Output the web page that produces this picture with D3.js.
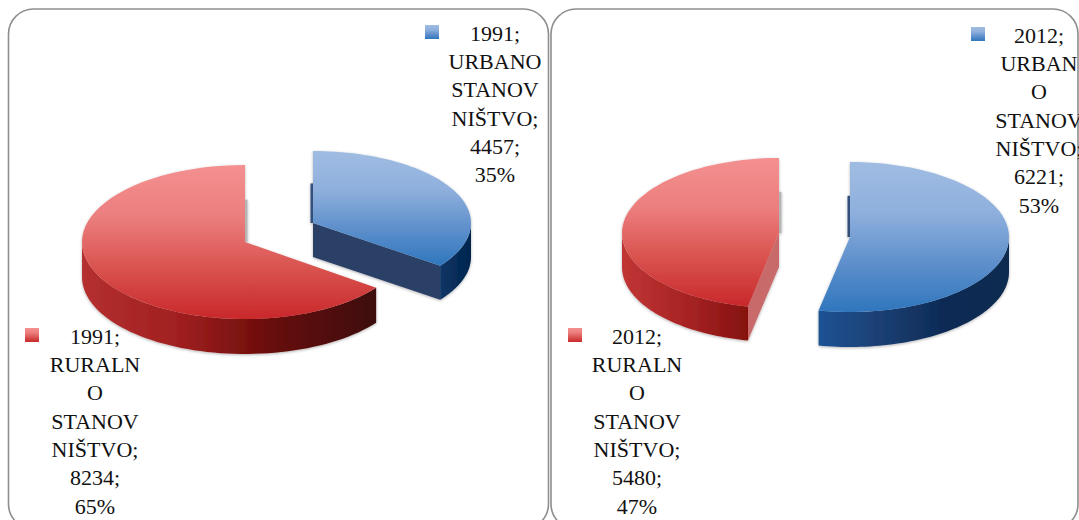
<!DOCTYPE html>
<html><head><meta charset="utf-8">
<script src="https://cdnjs.cloudflare.com/ajax/libs/d3/7.8.5/d3.min.js"></script>
<style>html,body{margin:0;padding:0;background:#fff;overflow:hidden}svg{display:block}</style>
</head><body><svg id="c" width="1079" height="520"></svg>
<script>
// ---- data ----
const years = ["1991", "2012"];
const categories = ["URBANO STANOVNIŠTVO", "RURALNO STANOVNIŠTVO"];
const urban = [4457, 6221];
const rural = [8234, 5480];
const urbanPct = ["35%", "53%"];
const ruralPct = ["65%", "47%"];
const urbanNameLines = [["URBANO","STANOV","NIŠTVO;"], ["URBAN","O","STANOV","NIŠTVO;"]];
const ruralNameLines = [["RURALN","O","STANOV","NIŠTVO;"], ["RURALN","O","STANOV","NIŠTVO;"]];

// ---- layout ----
const panels = [
  {x:8.5, w:540, urban:{cx:313,cy:223,rx:158,ry:72}, rural:{cx:245,cy:242,rx:163,ry:77},
   depth:[34,35], urbanLeg:{mx:425,my:25,tx:495,ty:33}, ruralLeg:{mx:25,my:328,tx:95,ty:336},
   uWall:["#0b3566","#03264e"], rWall:["#b53030","#a01f1f","#650b08","#3d0f0b"],
   uFace:"#2a4166", rFace:"#c96b6b"},
  {x:551, w:527, urban:{cx:850,cy:237,rx:159,ry:75}, rural:{cx:779,cy:233,rx:157,ry:75},
   depth:[35,34], urbanLeg:{mx:971,my:27,tx:1039,ty:35}, ruralLeg:{mx:568,my:328,tx:637,ty:336},
   uWall:["#1b5294","#1a3f72","#0d2a55","#0e2a50"], rWall:["#c03535","#a82424","#85110f"],
   uFace:"#2a4166", rFace:"#c96b6b"}
];
const lineH = 28.3, fontSize = 22;

const svg = d3.select("#c");
const defs = svg.append("defs");
function grad(id, stops, vertical){
  const g = defs.append("linearGradient").attr("id",id)
    .attr("x1",0).attr("y1",0).attr("x2",vertical?0:1).attr("y2",vertical?1:0);
  stops.forEach((c,i)=>g.append("stop").attr("offset",i/(stops.length-1)).attr("stop-color",c));
}
grad("topBlue",["#a0bce2","#8fb0dd","#5f90cc","#2f76bd"],true);
grad("topRed",["#f49090","#ec7e7e","#d9534f","#c9282b"],true);
const shadow = defs.append("filter").attr("id","sh").attr("x","-5%").attr("y","-5%").attr("width","110%").attr("height","115%");
shadow.append("feDropShadow").attr("dx",0).attr("dy",1).attr("stdDeviation",1.6).attr("flood-color","#000").attr("flood-opacity",0.3);

const line = d3.line();
const pie = d3.pie().sort(null);
const pt = (g,a,k=1)=>[g.cx+g.rx*k*Math.sin(a), g.cy-g.ry*k*Math.cos(a)];
const arcPts = (g,a0,a1,dy=0)=>d3.range(0,61).map(i=>{
  const p = pt(g,a0+(a1-a0)*i/60); return [p[0],p[1]+dy];
});

panels.forEach((p,i)=>{
  svg.append("rect").attr("x",p.x).attr("y",9).attr("width",p.w).attr("height",520).attr("rx",25)
    .attr("fill","#fff").attr("stroke","#8e8e8e").attr("stroke-width",1.6);
  const arcs = pie([urban[i],rural[i]]);
  const slices = [
    {key:"u",geo:p.urban,arc:arcs[0],depth:p.depth[0],top:"topBlue",wall:p.uWall,face:p.uFace,sliver:"#34507a"},
    {key:"r",geo:p.rural,arc:arcs[1],depth:p.depth[1],top:"topRed",wall:p.rWall,face:p.rFace,sliver:"#b5b5b5"}
  ];
  const G = svg.append("g");
  slices.forEach((s,j)=>{
    const id = `wall${i}${s.key}`;
    grad(id,s.wall,false);
    const g = G.append("g").attr("filter","url(#sh)");
    const geo = s.geo, a0 = s.arc.startAngle, a1 = s.arc.endAngle;
    const apex = [geo.cx,geo.cy];
    const upper = pt(geo, 0, 0.55);
    const off0 = s.key==="u"?-2.5:0, off1 = s.key==="u"?0:2.5;
    g.append("path").attr("d",line([[apex[0]+off0,apex[1]],[upper[0]+off0,upper[1]],[upper[0]+off1,upper[1]],[apex[0]+off1,apex[1]]])+"Z").attr("fill",s.sliver);
    const w0 = Math.max(a0,Math.PI/2), w1 = Math.min(a1,3*Math.PI/2);
    if(w1>w0){
      const topEdge = arcPts(geo,w0,w1), botEdge = arcPts(geo,w1,w0,s.depth);
      g.append("path").attr("d",line(topEdge.concat(botEdge))+"Z").attr("fill",`url(#${id})`);
    }
    const faceAngle = Math.sin(a1)>1e-6 ? a1 : (Math.sin(a0)<-1e-6 ? a0 : null);
    if(faceAngle!==null){
      const e = pt(geo,faceAngle);
      g.append("path").attr("d",line([apex,e,[e[0],e[1]+s.depth],[apex[0],apex[1]+s.depth]])+"Z").attr("fill",s.face);
    }
    g.append("path").attr("d",line([apex].concat(arcPts(geo,a0,a1)))+"Z").attr("fill",`url(#${s.top})`);
  });
  const labels = [
    {leg:p.urbanLeg,fill:"topBlue",lines:[years[i]+";",...urbanNameLines[i],urban[i]+";",urbanPct[i]]},
    {leg:p.ruralLeg,fill:"topRed",lines:[years[i]+";",...ruralNameLines[i],rural[i]+";",ruralPct[i]]}
  ];
  labels.forEach(l=>{
    svg.append("rect").attr("x",l.leg.mx).attr("y",l.leg.my).attr("width",14).attr("height",14).attr("fill",`url(#${l.fill})`);
    svg.append("g").selectAll("text").data(l.lines).join("text")
      .attr("x",l.leg.tx).attr("y",(d,k)=>l.leg.ty+k*lineH)
      .attr("dy","0.35em").attr("text-anchor","middle")
      .attr("font-family","'Liberation Serif',serif").attr("font-size",fontSize).attr("fill","#111")
      .text(d=>d);
  });
});
</script></body></html>
